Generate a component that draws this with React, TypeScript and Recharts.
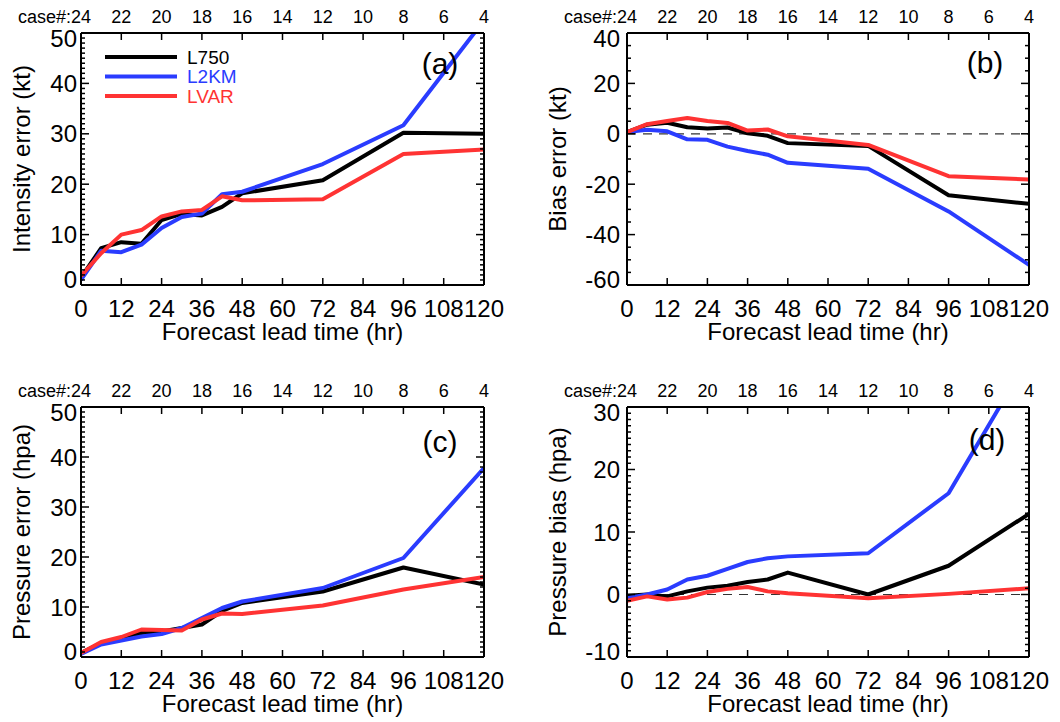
import { LineChart, Line, XAxis, YAxis, ReferenceLine, Legend, Label } from "recharts";

const FONT = '"Liberation Sans", Arial, Helvetica, sans-serif';

const leadTimes = [0, 6, 12, 18, 24, 30, 36, 42, 48, 72, 96, 120];
const leadTicks = [0, 12, 24, 36, 48, 60, 72, 84, 96, 108, 120];
const caseCounts = [24, 22, 20, 18, 16, 14, 12, 10, 8, 6, 4];
const seriesNames = ["L750", "L2KM", "LVAR"];

// (a) intensity error (kt)
const intErrL750 = [1.5, 7.3, 8.5, 8.2, 12.9, 14.1, 13.8, 15.5, 18.2, 20.8, 30.2, 30.0];
const intErrL2KM = [1.0, 6.8, 6.5, 8.0, 11.3, 13.5, 14.2, 18.0, 18.5, 24.0, 31.7, 52.5];
const intErrLVAR = [1.8, 6.3, 10.0, 10.9, 13.6, 14.6, 14.9, 17.6, 16.8, 17.0, 26.0, 26.9];

// (b) intensity bias (kt)
const biasL750 = [0.7, 3.6, 4.4, 2.6, 2.1, 2.5, 0.2, -0.8, -3.7, -4.8, -24.4, -27.8];
const biasL2KM = [0.7, 1.6, 1.0, -2.2, -2.4, -5.1, -6.8, -8.3, -11.5, -13.9, -30.8, -52.0];
const biasLVAR = [0.7, 3.8, 5.1, 6.3, 5.1, 4.3, 1.3, 1.7, -1.0, -4.4, -16.8, -18.1];

// (c) pressure error (hpa)
const presErrL750 = [0.8, 2.8, 3.8, 4.8, 5.1, 5.8, 6.5, 9.2, 10.8, 13.1, 17.9, 14.5];
const presErrL2KM = [0.6, 2.5, 3.3, 4.1, 4.6, 5.8, 7.8, 9.8, 11.1, 13.8, 19.8, 37.8];
const presErrLVAR = [0.8, 3.0, 4.0, 5.5, 5.4, 5.3, 7.5, 8.7, 8.6, 10.3, 13.5, 16.0];

// (d) pressure bias (hpa)
const presBiasL750 = [-0.2, 0.0, -0.3, 0.5, 1.1, 1.4, 2.0, 2.4, 3.5, 0.0, 4.6, 12.9];
const presBiasL2KM = [-0.6, 0.0, 0.8, 2.4, 3.0, 4.1, 5.2, 5.8, 6.1, 6.6, 16.2, 38.0];
const presBiasLVAR = [-1.0, -0.3, -0.8, -0.5, 0.4, 0.9, 1.2, 0.5, 0.2, -0.6, 0.1, 1.0];

const COLORS: Record<string, string> = { L750: "#000000", L2KM: "#2a3cff", LVAR: "#ff3333" };

function makeRows(l750: number[], l2km: number[], lvar: number[]) {
    return leadTimes.map((t, i) => ({ t, L750: l750[i], L2KM: l2km[i], LVAR: lvar[i] }));
}

function tickRange(lo: number, hi: number, step: number) {
    const out: number[] = [];
    for (let v = lo; v <= hi + 1e-9; v += step) out.push(Math.round(v * 1000) / 1000);
    return out;
}

// margins are the plot box insets minus the 1px axis bands
const panels = [
    {
        id: "a", tag: "(a)", tagX: 440, tagY: 74,
        left: 0, top: 0,
        margin: { top: 32, right: 45, bottom: 75, left: 80 },
        domain: [0, 50], major: 10, minor: 1,
        yTitle: "Intensity error (kt)", titleX: 30, labelGap: 4,
        rows: makeRows(intErrL750, intErrL2KM, intErrLVAR),
        zero: false, legend: true,
    },
    {
        id: "b", tag: "(b)", tagX: 455, tagY: 73,
        left: 530, top: 0,
        margin: { top: 32, right: 30, bottom: 75, left: 96 },
        domain: [-60, 40], major: 20, minor: 5,
        yTitle: "Bias error (kt)", titleX: 36, labelGap: 7,
        rows: makeRows(biasL750, biasL2KM, biasLVAR),
        zero: true, legend: false,
    },
    {
        id: "c", tag: "(c)", tagX: 440, tagY: 91,
        left: 0, top: 361,
        margin: { top: 45, right: 45, bottom: 64, left: 80 },
        domain: [0, 50], major: 10, minor: 1,
        yTitle: "Pressure error (hpa)", titleX: 30, labelGap: 4,
        rows: makeRows(presErrL750, presErrL2KM, presErrLVAR),
        zero: false, legend: false,
    },
    {
        id: "d", tag: "(d)", tagX: 457, tagY: 89,
        left: 530, top: 361,
        margin: { top: 45, right: 30, bottom: 64, left: 96 },
        domain: [-10, 30], major: 10, minor: 1,
        yTitle: "Pressure bias (hpa)", titleX: 36, labelGap: 7,
        rows: makeRows(presBiasL750, presBiasL2KM, presBiasLVAR),
        zero: true, legend: false,
    },
];

type PanelCfg = (typeof panels)[number];

const isMajor = (v: number, step: number) => Math.abs(v / step - Math.round(v / step)) < 1e-6;

const LeftTick = ({ x, y, payload, cfg }: any) => {
    const v = payload.value;
    const major = isMajor(v, cfg.major);
    let dy = 8.5;
    if (v === cfg.domain[0]) dy -= 6;
    if (v === cfg.domain[1]) dy += 5;
    return (
        <g>
            <line x1={x} x2={x + (major ? 8 : 4)} y1={y} y2={y} stroke="#000" strokeWidth={1.5} />
            {major && (
                <text x={x - cfg.labelGap} y={y + dy} textAnchor="end" fontSize={24} fontFamily={FONT} fill="#000">
                    {v}
                </text>
            )}
        </g>
    );
};

const RightTick = ({ x, y, payload, cfg }: any) => {
    const major = isMajor(payload.value, cfg.major);
    return <line x1={x} x2={x - (major ? 8 : 4)} y1={y} y2={y} stroke="#000" strokeWidth={1.5} />;
};

const BottomTick = ({ x, y, payload }: any) => (
    <g>
        <line x1={x} x2={x} y1={y} y2={y - 7} stroke="#000" strokeWidth={1.5} />
        <text x={x} y={y + 32} textAnchor="middle" fontSize={24} fontFamily={FONT} fill="#000">
            {payload.value}
        </text>
    </g>
);

const TopTick = ({ x, y, payload }: any) => {
    const i = leadTicks.indexOf(payload.value);
    const n = caseCounts[i];
    return (
        <g>
            <line x1={x} x2={x} y1={y} y2={y + 7} stroke="#000" strokeWidth={1.5} />
            {i === 0 ? (
                <text x={x + 10} y={y - 10} textAnchor="end" fontSize={18} fontFamily={FONT} fill="#000">
                    {`case#:${n}`}
                </text>
            ) : (
                <text x={x} y={y - 10} textAnchor="middle" fontSize={18} fontFamily={FONT} fill="#000">
                    {n}
                </text>
            )}
        </g>
    );
};

const LegendBox = () => (
    <svg width={170} height={62}>
        {seriesNames.map((name, i) => (
            <g key={`lg-${name}`}>
                <line x1={5} x2={77} y1={12 + i * 19.5} y2={12 + i * 19.5} stroke={COLORS[name]} strokeWidth={4} />
                <text x={87} y={18.5 + i * 19.5} fontSize={19} fontFamily={FONT} fill={COLORS[name]}>
                    {name}
                </text>
            </g>
        ))}
    </svg>
);

function Panel({ cfg }: { cfg: PanelCfg }) {
    const ticks = tickRange(cfg.domain[0], cfg.domain[1], cfg.minor);
    const yDomain = cfg.domain as [number, number];
    return (
        <div style={{ position: "absolute", left: cfg.left, top: cfg.top }}>
            <LineChart width={530} height={361} data={cfg.rows} margin={cfg.margin}>
                <XAxis
                    xAxisId="b" dataKey="t" type="number" domain={[0, 120]} ticks={leadTicks}
                    interval={0} height={1} tickSize={0} tickMargin={0} tickLine={false}
                    axisLine={{ stroke: "#000", strokeWidth: 2 }} allowDataOverflow
                    tick={(p: any) => <BottomTick {...p} />}
                >
                    <Label
                        content={({ viewBox }: any) => (
                            <text
                                x={viewBox.x + viewBox.width / 2} y={viewBox.y + 55}
                                textAnchor="middle" fontSize={24} fontFamily={FONT} fill="#000"
                            >
                                Forecast lead time (hr)
                            </text>
                        )}
                    />
                </XAxis>
                <XAxis
                    xAxisId="t" dataKey="t" orientation="top" type="number" domain={[0, 120]} ticks={leadTicks}
                    interval={0} height={1} tickSize={0} tickMargin={0} tickLine={false}
                    axisLine={{ stroke: "#000", strokeWidth: 2 }} allowDataOverflow
                    tick={(p: any) => <TopTick {...p} />}
                >
                    <Label
                        content={() => (
                            <text x={cfg.tagX} y={cfg.tagY} textAnchor="middle" fontSize={30} fontFamily={FONT} fill="#000">
                                {cfg.tag}
                            </text>
                        )}
                    />
                </XAxis>
                <YAxis
                    yAxisId="l" type="number" domain={yDomain} ticks={ticks} interval={0}
                    width={1} tickSize={0} tickMargin={0} tickLine={false}
                    axisLine={{ stroke: "#000", strokeWidth: 2 }} allowDataOverflow
                    tick={(p: any) => <LeftTick {...p} cfg={cfg} />}
                >
                    <Label
                        content={({ viewBox }: any) => (
                            <text
                                transform={`translate(${cfg.titleX}, ${viewBox.y + viewBox.height / 2}) rotate(-90)`}
                                textAnchor="middle" fontSize={24} fontFamily={FONT} fill="#000"
                            >
                                {cfg.yTitle}
                            </text>
                        )}
                    />
                </YAxis>
                <YAxis
                    yAxisId="r" orientation="right" type="number" domain={yDomain} ticks={ticks} interval={0}
                    width={1} tickSize={0} tickMargin={0} tickLine={false}
                    axisLine={{ stroke: "#000", strokeWidth: 2 }} allowDataOverflow
                    tick={(p: any) => <RightTick {...p} cfg={cfg} />}
                />
                {cfg.zero && (
                    <ReferenceLine xAxisId="b" yAxisId="l" y={0} stroke="#333" strokeWidth={1.2} strokeDasharray="9 7" />
                )}
                {cfg.legend && (
                    <Legend
                        layout="vertical" verticalAlign="middle" align="center"
                        wrapperStyle={{ position: "absolute", left: 100, top: 45, width: 170, height: 62 }}
                        content={() => <LegendBox />}
                    />
                )}
                {seriesNames.map((name) => (
                    <Line
                        key={name} xAxisId="b" yAxisId="l" name={name} dataKey={name} type="linear"
                        stroke={COLORS[name]} strokeWidth={4} dot={false} isAnimationActive={false}
                        strokeLinejoin="round"
                    />
                ))}
            </LineChart>
        </div>
    );
}

export default function App() {
    return (
        <div style={{ position: "absolute", left: 0, top: 0, width: 1060, height: 722, background: "#fff", fontFamily: FONT }}>
            {panels.map((p) => (
                <Panel key={p.id} cfg={p} />
            ))}
        </div>
    );
}
